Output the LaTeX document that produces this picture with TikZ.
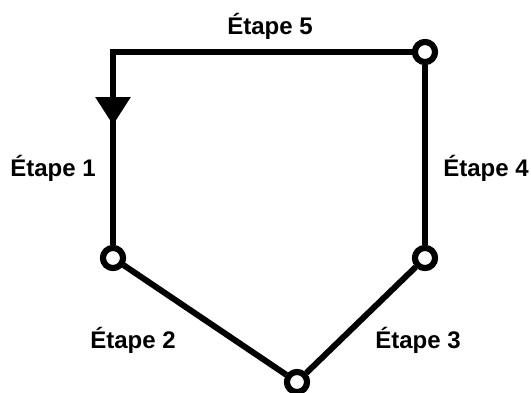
\documentclass[tikz,border=0pt]{standalone}
\usepackage{fontspec}
\setmainfont{Liberation Sans}
\usetikzlibrary{arrows.meta}

\begin{document}
\begin{tikzpicture}[x=1pt, y=-1pt, line width=6pt,
  every node/.style={font=\bfseries\fontsize{24}{28}\selectfont},
  joint/.style={circle, draw, fill=white, inner sep=0pt, minimum size=20pt},
  steplabel/.style={anchor=base}]

\useasboundingbox (0,0) rectangle (531,392);

% Corners of the path
\coordinate (corner) at (113,52);
\coordinate (tip) at (113,125);
\node[joint] (top) at (425,52) {};
\node[joint] (right) at (425,258) {};
\node[joint] (bottom) at (297,382) {};
\node[joint] (left) at (113,258) {};

% Path segments
\draw[line cap=rect] (top) -- (corner) -- (tip);
\draw[-{Triangle[width=34pt, length=28pt]}] (corner) -- (tip);
\draw (tip) -- (left);
\draw (left) -- (bottom);
\draw (bottom) -- (right);
\draw (right) -- (top);

% Redraw the joints on top
\foreach \n in {top, right, bottom, left} {
  \node[joint] at (\n) {};
}

% Labels
\node[steplabel] (l5) at (270,34) {Étape 5};
\node[steplabel] (l1) at (53,176) {Étape 1};
\node[steplabel] (l4) at (486,176) {Étape 4};
\node[steplabel] (l2) at (133,348) {Étape 2};
\node[steplabel] (l3) at (418,348) {Étape 3};

\end{tikzpicture}
\end{document}
